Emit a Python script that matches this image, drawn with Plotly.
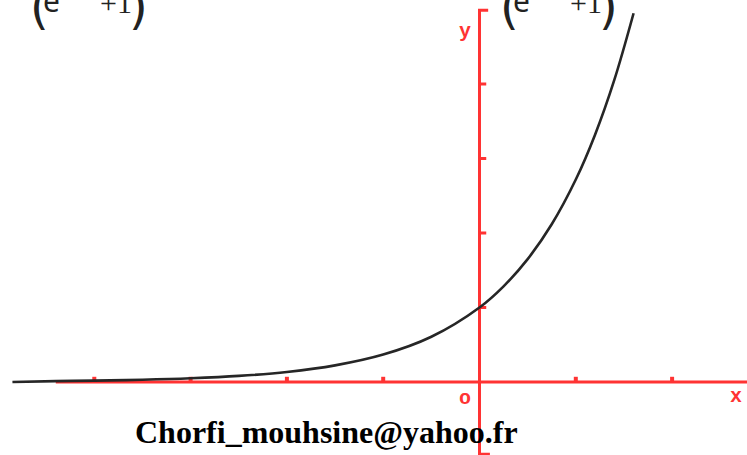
import plotly.graph_objects as go

# curve points (x, y)
curve_x = [-4.85, -4.4, -4.0, -3.5, -3.0, -2.5, -2.0, -1.5, -1.0, -0.5, 0.0, 0.25, 0.5, 0.75, 1.0, 1.2, 1.4, 1.6]
curve_y = [0.0, 0.012, 0.018, 0.03, 0.05, 0.082, 0.135, 0.223, 0.368, 0.607, 1.0, 1.284, 1.649, 2.117, 2.718, 3.32, 4.055, 4.95]

x_ticks = [-4, -3, -2, -1, 1, 2]
y_ticks = [1, 2, 3, 4]

x_axis_range = [-4.4, 2.8]
y_axis_range = [-0.97, 4.99]

RED = "#ff3333"
W, H = 747, 455
x0pix, y0pix = 479.5, 382
xs, ys = 96.3, 74.5
xr = [(0 - x0pix) / xs, (W - x0pix) / xs]
yr = [(y0pix - H) / ys, y0pix / ys]

fig = go.Figure()

# x axis line
fig.add_trace(go.Scatter(x=x_axis_range, y=[0, 0], mode="lines",
                         line=dict(color=RED, width=3), hoverinfo="skip"))
# y axis line with small end hooks
hook = 0.09
fig.add_trace(go.Scatter(x=[hook, 0, 0, hook * 1.2],
                         y=[y_axis_range[1], y_axis_range[1], y_axis_range[0], y_axis_range[0]],
                         mode="lines", line=dict(color=RED, width=3), hoverinfo="skip"))
# x ticks (upward)
tx, ty = [], []
for t in x_ticks:
    tx += [t, t, None]
    ty += [0, 0.07, None]
fig.add_trace(go.Scatter(x=tx, y=ty, mode="lines", line=dict(color=RED, width=4), hoverinfo="skip"))
# y ticks (to the right)
ux, uy = [], []
for t in y_ticks:
    ux += [0, 0.07, None]
    uy += [t, t, None]
fig.add_trace(go.Scatter(x=ux, y=uy, mode="lines", line=dict(color=RED, width=3), hoverinfo="skip"))

# curve
fig.add_trace(go.Scatter(x=curve_x, y=curve_y, mode="lines", line_shape="spline",
                         line=dict(color="#262626", width=2.6), hoverinfo="skip"))

def px(x):
    return x / W

def py(y):
    return 1 - y / H

ann = []
lab_font = dict(family="Liberation Mono", size=20, color=RED)
ann.append(dict(x=px(465), y=py(32), text="<b>y</b>", font=lab_font))
ann.append(dict(x=px(465), y=py(398), text="<b>o</b>", font=lab_font))
ann.append(dict(x=px(736), y=py(396), text="<b>x</b>", font=lab_font))
ann.append(dict(x=px(326), y=py(432), text="<b>Chorfi_mouhsine@yahoo.fr</b>",
                font=dict(family="Liberation Serif", size=32, color="black")))

# clipped formula fragments at the top
for off in [0, 470]:
    ann.append(dict(x=px(39 + off), y=py(7), text="(", font=dict(family="DejaVu Sans", size=48, color="#222")))
    ann.append(dict(x=px(138 + off), y=py(7), text=")", font=dict(family="DejaVu Sans", size=48, color="#222")))
    ann.append(dict(x=px(51 + off), y=py(0), text="e", font=dict(family="Noto Sans", size=30, color="#222")))
    ann.append(dict(x=px(116 + off), y=py(3), text="+1", font=dict(family="Liberation Serif", size=30, color="#222")))

for a in ann:
    a.update(xref="paper", yref="paper", showarrow=False, xanchor="center", yanchor="middle")

fig.update_layout(
    width=W, height=H,
    margin=dict(l=0, r=0, t=0, b=0),
    paper_bgcolor="white", plot_bgcolor="white",
    showlegend=False,
    xaxis=dict(range=xr, visible=False, fixedrange=True),
    yaxis=dict(range=yr, visible=False, fixedrange=True),
    annotations=ann,
)

fig.write_html("out.html", config={"displayModeBar": False},
               post_script="document.body.style.margin='0';document.body.style.overflow='hidden';")
